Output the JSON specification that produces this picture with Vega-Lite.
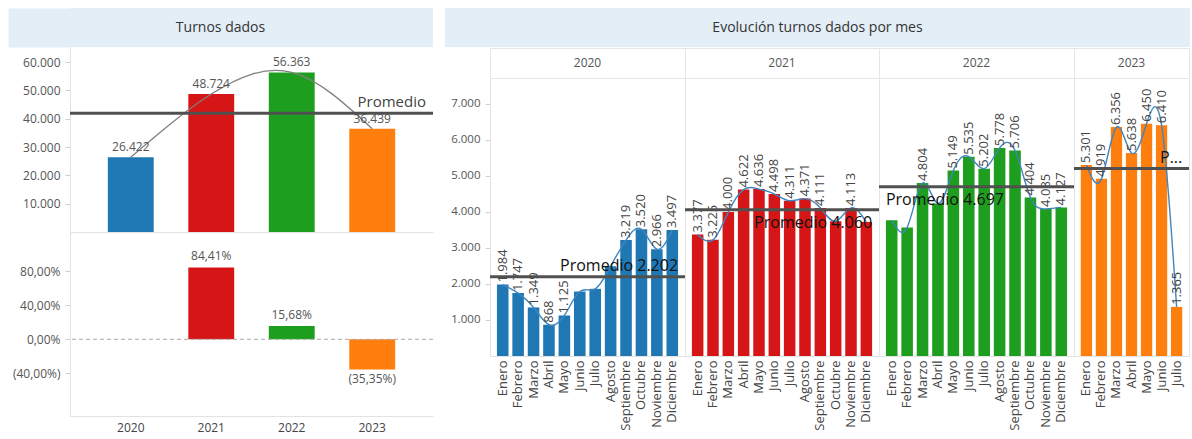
{
  "$schema": "https://vega.github.io/schema/vega-lite/v6.json",
  "padding": {"left": 8, "top": 8, "right": 0, "bottom": 2},
  "autosize": {"type": "pad"},
  "background": "white",
  "config": {
    "font": "Open Sans",
    "view": {"stroke": null},
    "axis": {"grid": false, "title": null, "labelColor": "#555", "labelFontSize": 12, "domainColor": "#e2e2e2", "tickColor": "#cfcfcf", "tickSize": 5, "labelPadding": 5, "labelOverlap": false},
    "locale": {"number": {"decimal": ",", "thousands": ".", "grouping": [3], "currency": ["", " €"]}}
  },
  "datasets": {
    "annual": [
      {"year": "2020", "total": 26422, "pct": null},
      {"year": "2021", "total": 48724, "pct": 0.8441},
      {"year": "2022", "total": 56363, "pct": 0.1568},
      {"year": "2023", "total": 36439, "pct": -0.3535}
    ],
    "avg": [
      {"year": "Total", "avg": 41987, "label": "Promedio"},
      {"year": "2020", "avg": 2202, "label": "Promedio 2.202"},
      {"year": "2021", "avg": 4060, "label": "Promedio 4.060"},
      {"year": "2022", "avg": 4697, "label": "Promedio 4.697"},
      {"year": "2023", "avg": 5206, "label": "P..."}
    ],
    "monthly": [
      {"year": "2020", "mes": "Enero", "v": 1984, "etiqueta": true},
      {"year": "2020", "mes": "Febrero", "v": 1747, "etiqueta": true},
      {"year": "2020", "mes": "Marzo", "v": 1349, "etiqueta": true},
      {"year": "2020", "mes": "Abril", "v": 868, "etiqueta": true},
      {"year": "2020", "mes": "Mayo", "v": 1125, "etiqueta": true},
      {"year": "2020", "mes": "Junio", "v": 1790, "etiqueta": false},
      {"year": "2020", "mes": "Julio", "v": 1865, "etiqueta": false},
      {"year": "2020", "mes": "Agosto", "v": 2492, "etiqueta": false},
      {"year": "2020", "mes": "Septiembre", "v": 3219, "etiqueta": true},
      {"year": "2020", "mes": "Octubre", "v": 3520, "etiqueta": true},
      {"year": "2020", "mes": "Noviembre", "v": 2966, "etiqueta": true},
      {"year": "2020", "mes": "Diciembre", "v": 3497, "etiqueta": true},
      {"year": "2021", "mes": "Enero", "v": 3377, "etiqueta": true},
      {"year": "2021", "mes": "Febrero", "v": 3225, "etiqueta": true},
      {"year": "2021", "mes": "Marzo", "v": 4000, "etiqueta": true},
      {"year": "2021", "mes": "Abril", "v": 4622, "etiqueta": true},
      {"year": "2021", "mes": "Mayo", "v": 4636, "etiqueta": true},
      {"year": "2021", "mes": "Junio", "v": 4498, "etiqueta": true},
      {"year": "2021", "mes": "Julio", "v": 4311, "etiqueta": true},
      {"year": "2021", "mes": "Agosto", "v": 4371, "etiqueta": true},
      {"year": "2021", "mes": "Septiembre", "v": 4111, "etiqueta": true},
      {"year": "2021", "mes": "Octubre", "v": 3740, "etiqueta": false},
      {"year": "2021", "mes": "Noviembre", "v": 4113, "etiqueta": true},
      {"year": "2021", "mes": "Diciembre", "v": 3720, "etiqueta": false},
      {"year": "2022", "mes": "Enero", "v": 3770, "etiqueta": false},
      {"year": "2022", "mes": "Febrero", "v": 3570, "etiqueta": false},
      {"year": "2022", "mes": "Marzo", "v": 4804, "etiqueta": true},
      {"year": "2022", "mes": "Abril", "v": 4233, "etiqueta": false},
      {"year": "2022", "mes": "Mayo", "v": 5149, "etiqueta": true},
      {"year": "2022", "mes": "Junio", "v": 5535, "etiqueta": true},
      {"year": "2022", "mes": "Julio", "v": 5202, "etiqueta": true},
      {"year": "2022", "mes": "Agosto", "v": 5778, "etiqueta": true},
      {"year": "2022", "mes": "Septiembre", "v": 5706, "etiqueta": true},
      {"year": "2022", "mes": "Octubre", "v": 4404, "etiqueta": true},
      {"year": "2022", "mes": "Noviembre", "v": 4085, "etiqueta": true},
      {"year": "2022", "mes": "Diciembre", "v": 4127, "etiqueta": true},
      {"year": "2023", "mes": "Enero", "v": 5301, "etiqueta": true},
      {"year": "2023", "mes": "Febrero", "v": 4919, "etiqueta": true},
      {"year": "2023", "mes": "Marzo", "v": 6356, "etiqueta": true},
      {"year": "2023", "mes": "Abril", "v": 5638, "etiqueta": true},
      {"year": "2023", "mes": "Mayo", "v": 6450, "etiqueta": true},
      {"year": "2023", "mes": "Junio", "v": 6410, "etiqueta": true},
      {"year": "2023", "mes": "Julio", "v": 1365, "etiqueta": true}
    ]
  },
  "columns": 1,
  "spacing": 0,
  "align": "none",
  "concat": [
    {
      "spacing": 12,
      "hconcat": [
        {
          "width": 363, "height": 39,
          "view": {"fill": "#e3eef6", "stroke": null},
          "data": {"values": [{"t": "Turnos dados", "fila": "a"}]},
          "mark": {"type": "text", "fontSize": 14, "color": "#333", "dx": -31},
          "encoding": {
            "text": {"field": "t"},
            "y": {"field": "fila", "type": "nominal", "axis": {"domainWidth": 62, "offset": 31, "domainColor": "#e3eef6", "domainCap": "butt", "labels": false, "ticks": false, "title": null, "minExtent": 31, "maxExtent": 31}}
          }
        },
        {
          "width": 745, "height": 39,
          "view": {"fill": "#e3eef6", "stroke": null},
          "data": {"values": [{"t": "Evolución turnos dados por mes"}]},
          "mark": {"type": "text", "fontSize": 14, "color": "#333"},
          "encoding": {"text": {"field": "t"}}
        }
      ]
    },
    {
      "spacing": 8,
      "hconcat": [
        {
          "spacing": 0,
          "vconcat": [
            {
              "width": 363, "height": 184,
              "layer": [
                {
                  "data": {"name": "annual"},
                  "mark": {"type": "bar"},
                  "encoding": {
                    "x": {"field": "year", "type": "nominal", "scale": {"paddingInner": 0.43, "paddingOuter": 0.47}, "axis": {"labels": false, "ticks": false, "domain": true, "minExtent": 0, "maxExtent": 0}},
                    "y": {"field": "total", "type": "quantitative", "scale": {"domain": [0, 65000], "nice": false}, "axis": {"values": [10000, 20000, 30000, 40000, 50000, 60000], "tickCount": 7, "format": ",.0f", "labelOverlap": false, "minExtent": 62, "maxExtent": 62}},
                    "color": {"field": "year", "type": "nominal", "scale": {"domain": ["2020", "2021", "2022", "2023"], "range": ["#1f77b4", "#d61616", "#1e9e1e", "#ff7f0e"]}, "legend": null}
                  }
                },
                {
                  "data": {"name": "annual"},
                  "mark": {"type": "line", "interpolate": "natural", "color": "#808080", "strokeWidth": 1.3},
                  "encoding": {
                    "x": {"field": "year", "type": "nominal"},
                    "y": {"field": "total", "type": "quantitative"}
                  }
                },
                {
                  "data": {"name": "annual"},
                  "mark": {"type": "text", "baseline": "bottom", "dy": -3, "fontSize": 12, "color": "#555"},
                  "encoding": {
                    "x": {"field": "year", "type": "nominal"},
                    "y": {"field": "total", "type": "quantitative"},
                    "text": {"field": "total", "type": "quantitative", "format": ",.0f"}
                  }
                },
                {
                  "data": {"name": "avg"},
                  "transform": [{"filter": "datum.year == 'Total'"}],
                  "mark": {"type": "rule", "color": "#505050", "strokeWidth": 3},
                  "encoding": {"y": {"field": "avg", "type": "quantitative"}}
                },
                {
                  "data": {"name": "avg"},
                  "transform": [{"filter": "datum.year == 'Total'"}],
                  "mark": {"type": "text", "align": "right", "baseline": "bottom", "dx": -7, "dy": -3, "fontSize": 15, "color": "#444"},
                  "encoding": {"x": {"value": "width"}, "y": {"field": "avg", "type": "quantitative"}, "text": {"field": "label"}}
                }
              ]
            },
            {
              "width": 363, "height": 184,
              "data": {"name": "annual"},
              "layer": [
                {
                  "mark": {"type": "bar"},
                  "encoding": {
                    "x": {"field": "year", "type": "nominal", "scale": {"domain": ["2020", "2021", "2022", "2023"], "paddingInner": 0.43, "paddingOuter": 0.47}, "axis": {"labelAngle": 0, "ticks": false, "labelPadding": 6, "labelColor": "#444"}},
                    "y": {"field": "pct", "type": "quantitative", "scale": {"domain": [-0.9, 1.26], "nice": false}, "axis": {"values": [-0.4, 0, 0.4, 0.8], "tickCount": 7, "format": "(.2%", "minExtent": 62, "maxExtent": 62}},
                    "color": {"field": "year", "type": "nominal", "scale": {"domain": ["2020", "2021", "2022", "2023"], "range": ["#1f77b4", "#d61616", "#1e9e1e", "#ff7f0e"]}, "legend": null}
                  }
                },
                {
                  "data": {"values": [{"cero": 0}]},
                  "mark": {"type": "rule", "color": "#aaaaaa", "strokeDash": [4, 3], "strokeWidth": 1},
                  "encoding": {"y": {"field": "cero", "type": "quantitative"}}
                },
                {
                  "transform": [{"filter": "datum.pct > 0"}],
                  "mark": {"type": "text", "baseline": "bottom", "dy": -4, "fontSize": 12, "color": "#555"},
                  "encoding": {
                    "x": {"field": "year", "type": "nominal"},
                    "y": {"field": "pct", "type": "quantitative"},
                    "text": {"field": "pct", "type": "quantitative", "format": "(.2%"}
                  }
                },
                {
                  "transform": [{"filter": "datum.pct < 0"}],
                  "mark": {"type": "text", "baseline": "top", "dy": 5, "fontSize": 12, "color": "#555"},
                  "encoding": {
                    "x": {"field": "year", "type": "nominal"},
                    "y": {"field": "pct", "type": "quantitative"},
                    "text": {"field": "pct", "type": "quantitative", "format": "(.2%"}
                  }
                }
              ]
            }
          ]
        },
        {
          "columns": 4,
          "spacing": 0,
          "bounds": "flush",
          "align": "each",
          "concat": [
            {
              "width": 195, "height": 30,
              "view": {"stroke": "#e6e6e6"},
              "data": {"values": [{"t": "2020"}]},
              "mark": {"type": "text", "fontSize": 12, "color": "#555"},
              "encoding": {"text": {"field": "t"}}
            },
            {
              "width": 194, "height": 30,
              "view": {"stroke": "#e6e6e6"},
              "data": {"values": [{"t": "2021"}]},
              "mark": {"type": "text", "fontSize": 12, "color": "#555"},
              "encoding": {"text": {"field": "t"}}
            },
            {
              "width": 195, "height": 30,
              "view": {"stroke": "#e6e6e6"},
              "data": {"values": [{"t": "2022"}]},
              "mark": {"type": "text", "fontSize": 12, "color": "#555"},
              "encoding": {"text": {"field": "t"}}
            },
            {
              "width": 115, "height": 30,
              "view": {"stroke": "#e6e6e6"},
              "data": {"values": [{"t": "2023"}]},
              "mark": {"type": "text", "fontSize": 12, "color": "#555"},
              "encoding": {"text": {"field": "t"}}
            },
            {
              "width": 195, "height": 278,
              "view": {"stroke": "#e6e6e6"},
              "layer": [
                {
                  "data": {"name": "monthly"},
                  "transform": [{"filter": "datum.year == '2020'"}],
                  "mark": {"type": "bar", "color": "#1f77b4"},
                  "encoding": {
                    "x": {"field": "mes", "type": "ordinal", "sort": ["Enero", "Febrero", "Marzo", "Abril", "Mayo", "Junio", "Julio", "Agosto", "Septiembre", "Octubre", "Noviembre", "Diciembre"], "scale": {"paddingInner": 0.25, "paddingOuter": 0.45}, "axis": {"labelAngle": -90, "ticks": false, "labelPadding": 4, "labelColor": "#444", "labelFontSize": 13}},
                    "y": {"field": "v", "type": "quantitative", "scale": {"domain": [0, 7720], "nice": false}, "axis": {"values": [1000, 2000, 3000, 4000, 5000, 6000, 7000], "tickCount": 8, "format": ",.0f", "labelFontSize": 11.5, "labelOverlap": false, "minExtent": 46, "maxExtent": 46}}
                  }
                },
                {
                  "data": {"name": "monthly"},
                  "transform": [{"filter": "datum.year == '2020'"}],
                  "mark": {"type": "line", "interpolate": "natural", "color": "#3f86c0", "strokeWidth": 1.4},
                  "encoding": {"x": {"field": "mes", "type": "ordinal", "sort": ["Enero", "Febrero", "Marzo", "Abril", "Mayo", "Junio", "Julio", "Agosto", "Septiembre", "Octubre", "Noviembre", "Diciembre"]}, "y": {"field": "v", "type": "quantitative"}}
                },
                {
                  "data": {"name": "monthly"},
                  "transform": [{"filter": "datum.year == '2020' && datum.etiqueta"}],
                  "mark": {"type": "text", "angle": -90, "align": "left", "baseline": "middle", "dx": 2, "fontSize": 13, "color": "#444"},
                  "encoding": {"x": {"field": "mes", "type": "ordinal", "sort": ["Enero", "Febrero", "Marzo", "Abril", "Mayo", "Junio", "Julio", "Agosto", "Septiembre", "Octubre", "Noviembre", "Diciembre"]}, "y": {"field": "v", "type": "quantitative"}, "text": {"field": "v", "type": "quantitative", "format": ",.0f"}}
                },
                {
                  "data": {"name": "avg"},
                  "transform": [{"filter": "datum.year == '2020'"}],
                  "mark": {"type": "rule", "color": "#505050", "strokeWidth": 3},
                  "encoding": {"y": {"field": "avg", "type": "quantitative"}}
                },
                {
                  "data": {"name": "avg"},
                  "transform": [{"filter": "datum.year == '2020'"}],
                  "mark": {"type": "text", "align": "right", "baseline": "bottom", "dy": -3, "fontSize": 16, "color": "#111"},
                  "encoding": {"x": {"datum": "Diciembre", "type": "ordinal", "bandPosition": 1}, "y": {"field": "avg", "type": "quantitative"}, "text": {"field": "label"}}
                }
              ]
            },
            {
              "width": 194, "height": 278,
              "view": {"stroke": "#e6e6e6"},
              "layer": [
                {
                  "data": {"name": "monthly"},
                  "transform": [{"filter": "datum.year == '2021'"}],
                  "mark": {"type": "bar", "color": "#d61616"},
                  "encoding": {
                    "x": {"field": "mes", "type": "ordinal", "sort": ["Enero", "Febrero", "Marzo", "Abril", "Mayo", "Junio", "Julio", "Agosto", "Septiembre", "Octubre", "Noviembre", "Diciembre"], "scale": {"paddingInner": 0.25, "paddingOuter": 0.45}, "axis": {"labelAngle": -90, "ticks": false, "labelPadding": 4, "labelColor": "#444", "labelFontSize": 13}},
                    "y": {"field": "v", "type": "quantitative", "scale": {"domain": [0, 7720], "nice": false}, "axis": null}
                  }
                },
                {
                  "data": {"name": "monthly"},
                  "transform": [{"filter": "datum.year == '2021'"}],
                  "mark": {"type": "line", "interpolate": "natural", "color": "#3f86c0", "strokeWidth": 1.4},
                  "encoding": {"x": {"field": "mes", "type": "ordinal", "sort": ["Enero", "Febrero", "Marzo", "Abril", "Mayo", "Junio", "Julio", "Agosto", "Septiembre", "Octubre", "Noviembre", "Diciembre"]}, "y": {"field": "v", "type": "quantitative", "axis": null}}
                },
                {
                  "data": {"name": "monthly"},
                  "transform": [{"filter": "datum.year == '2021' && datum.etiqueta"}],
                  "mark": {"type": "text", "angle": -90, "align": "left", "baseline": "middle", "dx": 2, "fontSize": 13, "color": "#444"},
                  "encoding": {"x": {"field": "mes", "type": "ordinal", "sort": ["Enero", "Febrero", "Marzo", "Abril", "Mayo", "Junio", "Julio", "Agosto", "Septiembre", "Octubre", "Noviembre", "Diciembre"]}, "y": {"field": "v", "type": "quantitative", "axis": null}, "text": {"field": "v", "type": "quantitative", "format": ",.0f"}}
                },
                {
                  "data": {"name": "avg"},
                  "transform": [{"filter": "datum.year == '2021'"}],
                  "mark": {"type": "rule", "color": "#505050", "strokeWidth": 3},
                  "encoding": {"y": {"field": "avg", "type": "quantitative", "axis": null}}
                },
                {
                  "data": {"name": "avg"},
                  "transform": [{"filter": "datum.year == '2021'"}],
                  "mark": {"type": "text", "align": "right", "baseline": "top", "dy": 5, "fontSize": 16, "color": "#111"},
                  "encoding": {"x": {"datum": "Diciembre", "type": "ordinal", "bandPosition": 1}, "y": {"field": "avg", "type": "quantitative", "axis": null}, "text": {"field": "label"}}
                }
              ]
            },
            {
              "width": 195, "height": 278,
              "view": {"stroke": "#e6e6e6"},
              "layer": [
                {
                  "data": {"name": "monthly"},
                  "transform": [{"filter": "datum.year == '2022'"}],
                  "mark": {"type": "bar", "color": "#1e9e1e"},
                  "encoding": {
                    "x": {"field": "mes", "type": "ordinal", "sort": ["Enero", "Febrero", "Marzo", "Abril", "Mayo", "Junio", "Julio", "Agosto", "Septiembre", "Octubre", "Noviembre", "Diciembre"], "scale": {"paddingInner": 0.25, "paddingOuter": 0.45}, "axis": {"labelAngle": -90, "ticks": false, "labelPadding": 4, "labelColor": "#444", "labelFontSize": 13}},
                    "y": {"field": "v", "type": "quantitative", "scale": {"domain": [0, 7720], "nice": false}, "axis": null}
                  }
                },
                {
                  "data": {"name": "monthly"},
                  "transform": [{"filter": "datum.year == '2022'"}],
                  "mark": {"type": "line", "interpolate": "natural", "color": "#3f86c0", "strokeWidth": 1.4},
                  "encoding": {"x": {"field": "mes", "type": "ordinal", "sort": ["Enero", "Febrero", "Marzo", "Abril", "Mayo", "Junio", "Julio", "Agosto", "Septiembre", "Octubre", "Noviembre", "Diciembre"]}, "y": {"field": "v", "type": "quantitative", "axis": null}}
                },
                {
                  "data": {"name": "monthly"},
                  "transform": [{"filter": "datum.year == '2022' && datum.etiqueta"}],
                  "mark": {"type": "text", "angle": -90, "align": "left", "baseline": "middle", "dx": 2, "fontSize": 13, "color": "#444"},
                  "encoding": {"x": {"field": "mes", "type": "ordinal", "sort": ["Enero", "Febrero", "Marzo", "Abril", "Mayo", "Junio", "Julio", "Agosto", "Septiembre", "Octubre", "Noviembre", "Diciembre"]}, "y": {"field": "v", "type": "quantitative", "axis": null}, "text": {"field": "v", "type": "quantitative", "format": ",.0f"}}
                },
                {
                  "data": {"name": "avg"},
                  "transform": [{"filter": "datum.year == '2022'"}],
                  "mark": {"type": "rule", "color": "#505050", "strokeWidth": 3},
                  "encoding": {"y": {"field": "avg", "type": "quantitative", "axis": null}}
                },
                {
                  "data": {"name": "avg"},
                  "transform": [{"filter": "datum.year == '2022'"}],
                  "mark": {"type": "text", "align": "left", "baseline": "top", "dy": 5, "fontSize": 16, "color": "#111"},
                  "encoding": {"x": {"datum": "Enero", "type": "ordinal", "bandPosition": 0}, "y": {"field": "avg", "type": "quantitative", "axis": null}, "text": {"field": "label"}}
                }
              ]
            },
            {
              "width": 115, "height": 278,
              "view": {"stroke": "#e6e6e6"},
              "layer": [
                {
                  "data": {"name": "monthly"},
                  "transform": [{"filter": "datum.year == '2023'"}],
                  "mark": {"type": "bar", "color": "#ff7f0e"},
                  "encoding": {
                    "x": {"field": "mes", "type": "ordinal", "sort": ["Enero", "Febrero", "Marzo", "Abril", "Mayo", "Junio", "Julio"], "scale": {"paddingInner": 0.25, "paddingOuter": 0.45}, "axis": {"labelAngle": -90, "ticks": false, "labelPadding": 4, "labelColor": "#444", "labelFontSize": 13}},
                    "y": {"field": "v", "type": "quantitative", "scale": {"domain": [0, 7720], "nice": false}, "axis": null}
                  }
                },
                {
                  "data": {"name": "monthly"},
                  "transform": [{"filter": "datum.year == '2023'"}],
                  "mark": {"type": "line", "interpolate": "natural", "color": "#3f86c0", "strokeWidth": 1.4},
                  "encoding": {"x": {"field": "mes", "type": "ordinal", "sort": ["Enero", "Febrero", "Marzo", "Abril", "Mayo", "Junio", "Julio"]}, "y": {"field": "v", "type": "quantitative", "axis": null}}
                },
                {
                  "data": {"name": "monthly"},
                  "transform": [{"filter": "datum.year == '2023' && datum.etiqueta"}],
                  "mark": {"type": "text", "angle": -90, "align": "left", "baseline": "middle", "dx": 2, "fontSize": 13, "color": "#444"},
                  "encoding": {"x": {"field": "mes", "type": "ordinal", "sort": ["Enero", "Febrero", "Marzo", "Abril", "Mayo", "Junio", "Julio"]}, "y": {"field": "v", "type": "quantitative", "axis": null}, "text": {"field": "v", "type": "quantitative", "format": ",.0f"}}
                },
                {
                  "data": {"name": "avg"},
                  "transform": [{"filter": "datum.year == '2023'"}],
                  "mark": {"type": "rule", "color": "#505050", "strokeWidth": 3},
                  "encoding": {"y": {"field": "avg", "type": "quantitative", "axis": null}}
                },
                {
                  "data": {"name": "avg"},
                  "transform": [{"filter": "datum.year == '2023'"}],
                  "mark": {"type": "text", "align": "right", "baseline": "bottom", "dy": -3, "fontSize": 16, "color": "#111"},
                  "encoding": {"x": {"datum": "Julio", "type": "ordinal", "bandPosition": 1}, "y": {"field": "avg", "type": "quantitative", "axis": null}, "text": {"field": "label"}}
                }
              ]
            }
          ]
        }
      ]
    }
  ]
}
